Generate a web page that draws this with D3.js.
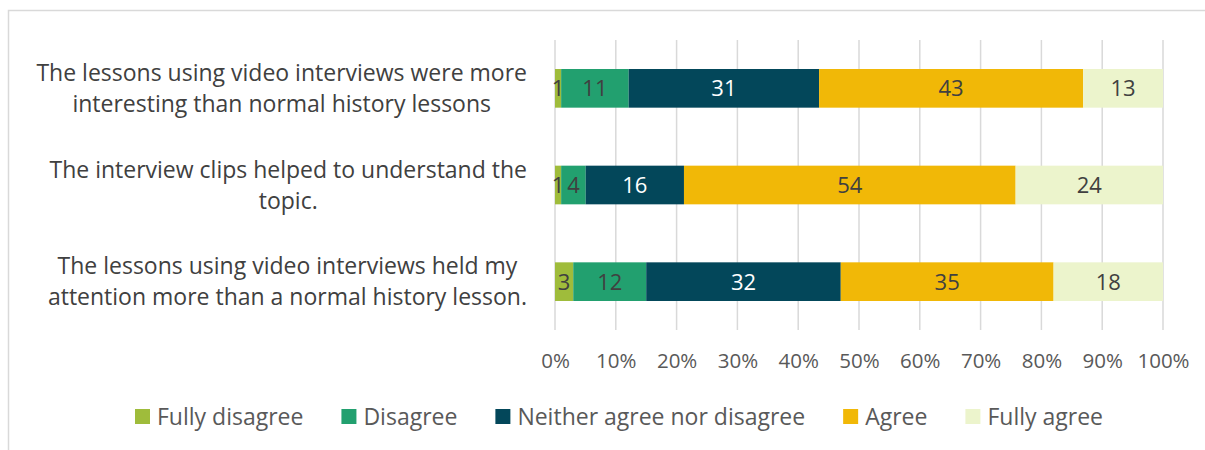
<!DOCTYPE html>
<html>
<head>
<meta charset="utf-8">
<script src="https://cdn.jsdelivr.net/npm/d3@7"></script>
<style>
  html, body { margin: 0; padding: 0; background: #fff; }
  svg { display: block; font-family: "Open Sans", Lato, sans-serif; }
</style>
</head>
<body>
<svg id="chart" width="1205" height="450"></svg>
<script>
// Survey statements (one bar each, top to bottom)
const statements = [
  ["The lessons using video interviews were more", "interesting than normal history lessons"],
  ["The interview clips helped to understand the", "topic."],
  ["The lessons using video interviews held my", "attention more than a normal history lesson."]
];
const statementKeys = ["s1", "s2", "s3"];

// Response categories and their counts per statement
const responses = ["Fully disagree", "Disagree", "Neither agree nor disagree", "Agree", "Fully agree"];
const fullyDisagree = [1, 1, 3];
const disagree      = [11, 4, 12];
const neither       = [31, 16, 32];
const agree         = [43, 54, 35];
const fullyAgree    = [13, 24, 18];

const colors = ["#9fbc3b", "#22a06f", "#03475a", "#f1b807", "#ecf4cc"];
const labelColors = ["#404040", "#404040", "#ffffff", "#404040", "#404040"];

const tickValues = [0, 0.1, 0.2, 0.3, 0.4, 0.5, 0.6, 0.7, 0.8, 0.9, 1.0];

const seriesValues = [fullyDisagree, disagree, neither, agree, fullyAgree];
const rows = statementKeys.map((k, i) => {
  const r = { key: k };
  responses.forEach((name, j) => { r[name] = seriesValues[j][i]; });
  return r;
});

const svg = d3.select("#chart");

// chart frame
svg.append("rect")
  .attr("x", 8.5).attr("y", 10.5)
  .attr("width", 1210).attr("height", 460)
  .attr("fill", "none").attr("stroke", "#d9d9d9").attr("stroke-width", 1.5);

const plot = { left: 555, right: 1163, top: 40, bottom: 330 };

const x = d3.scaleLinear().domain([0, 1]).range([plot.left, plot.right]);
const y = d3.scaleBand().domain(statementKeys).range([plot.top, plot.bottom]).paddingInner(0.6).paddingOuter(0.3);

// vertical gridlines
svg.append("g").selectAll("line").data(tickValues).join("line")
  .attr("x1", d => x(d)).attr("x2", d => x(d))
  .attr("y1", plot.top).attr("y2", plot.bottom)
  .attr("stroke", "#d9d9d9").attr("stroke-width", 1.5);

// tick labels
const xAxis = d3.axisBottom(x).tickValues(tickValues).tickFormat(d3.format(".0%")).tickSize(0).tickPadding(0);
const ax = svg.append("g").attr("transform", `translate(0,${plot.bottom + 38})`).call(xAxis);
ax.select(".domain").remove();
ax.selectAll("text")
  .attr("dy", 0)
  .attr("font-family", "'Open Sans', sans-serif")
  .attr("font-size", 20.5)
  .attr("fill", "#595959");

// stacked, normalised to 100%
const stack = d3.stack().keys(responses).offset(d3.stackOffsetExpand);
const layers = stack(rows);

const groups = svg.append("g").selectAll("g").data(layers).join("g")
  .attr("fill", (d, i) => colors[i]);

groups.selectAll("rect").data(d => d).join("rect")
  .attr("x", d => x(d[0]))
  .attr("y", d => y(d.data.key))
  .attr("width", d => x(d[1]) - x(d[0]))
  .attr("height", y.bandwidth());

// value labels
layers.forEach((layer, i) => {
  svg.append("g").selectAll("text").data(layer).join("text")
    .attr("x", d => (x(d[0]) + x(d[1])) / 2)
    .attr("y", d => y(d.data.key) + y.bandwidth() / 2)
    .attr("dy", "0.36em")
    .attr("text-anchor", "middle")
    .attr("font-size", 22)
    .attr("fill", labelColors[i])
    .text(d => d.data[layer.key]);
});

// category labels: each block centred, right edge aligned near the plot
const catRight = 527;
statements.forEach((lines, i) => {
  const cy = y(statementKeys[i]) + y.bandwidth() / 2;
  const g = svg.append("g");
  const texts = lines.map((ln, j) => g.append("text")
    .attr("y", cy + (j - (lines.length - 1) / 2) * 31)
    .attr("dy", "0.36em")
    .attr("text-anchor", "middle")
    .attr("font-size", 23)
    .attr("fill", "#404040")
    .text(ln));
  const maxW = d3.max(texts, t => t.node().getComputedTextLength());
  texts.forEach(t => t.attr("x", catRight - maxW / 2));
});

// legend
const legend = svg.append("g");
const legY = 416.5;
const items = responses.map((name, i) => {
  const g = legend.append("g");
  g.append("rect").attr("x", 0).attr("y", legY - 7.5).attr("width", 15).attr("height", 15).attr("fill", colors[i]);
  const t = g.append("text").attr("x", 22).attr("y", legY).attr("dy", "0.36em")
    .attr("font-size", 23).attr("fill", "#595959").text(name);
  return { g, w: 22 + t.node().getComputedTextLength() };
});
const legLeft = 135, legRight = 1103;
const totalW = d3.sum(items, d => d.w);
const gap = (legRight - legLeft - totalW) / (items.length - 1);
let cx = legLeft;
items.forEach(it => { it.g.attr("transform", `translate(${cx},0)`); cx += it.w + gap; });
</script>
</body>
</html>
